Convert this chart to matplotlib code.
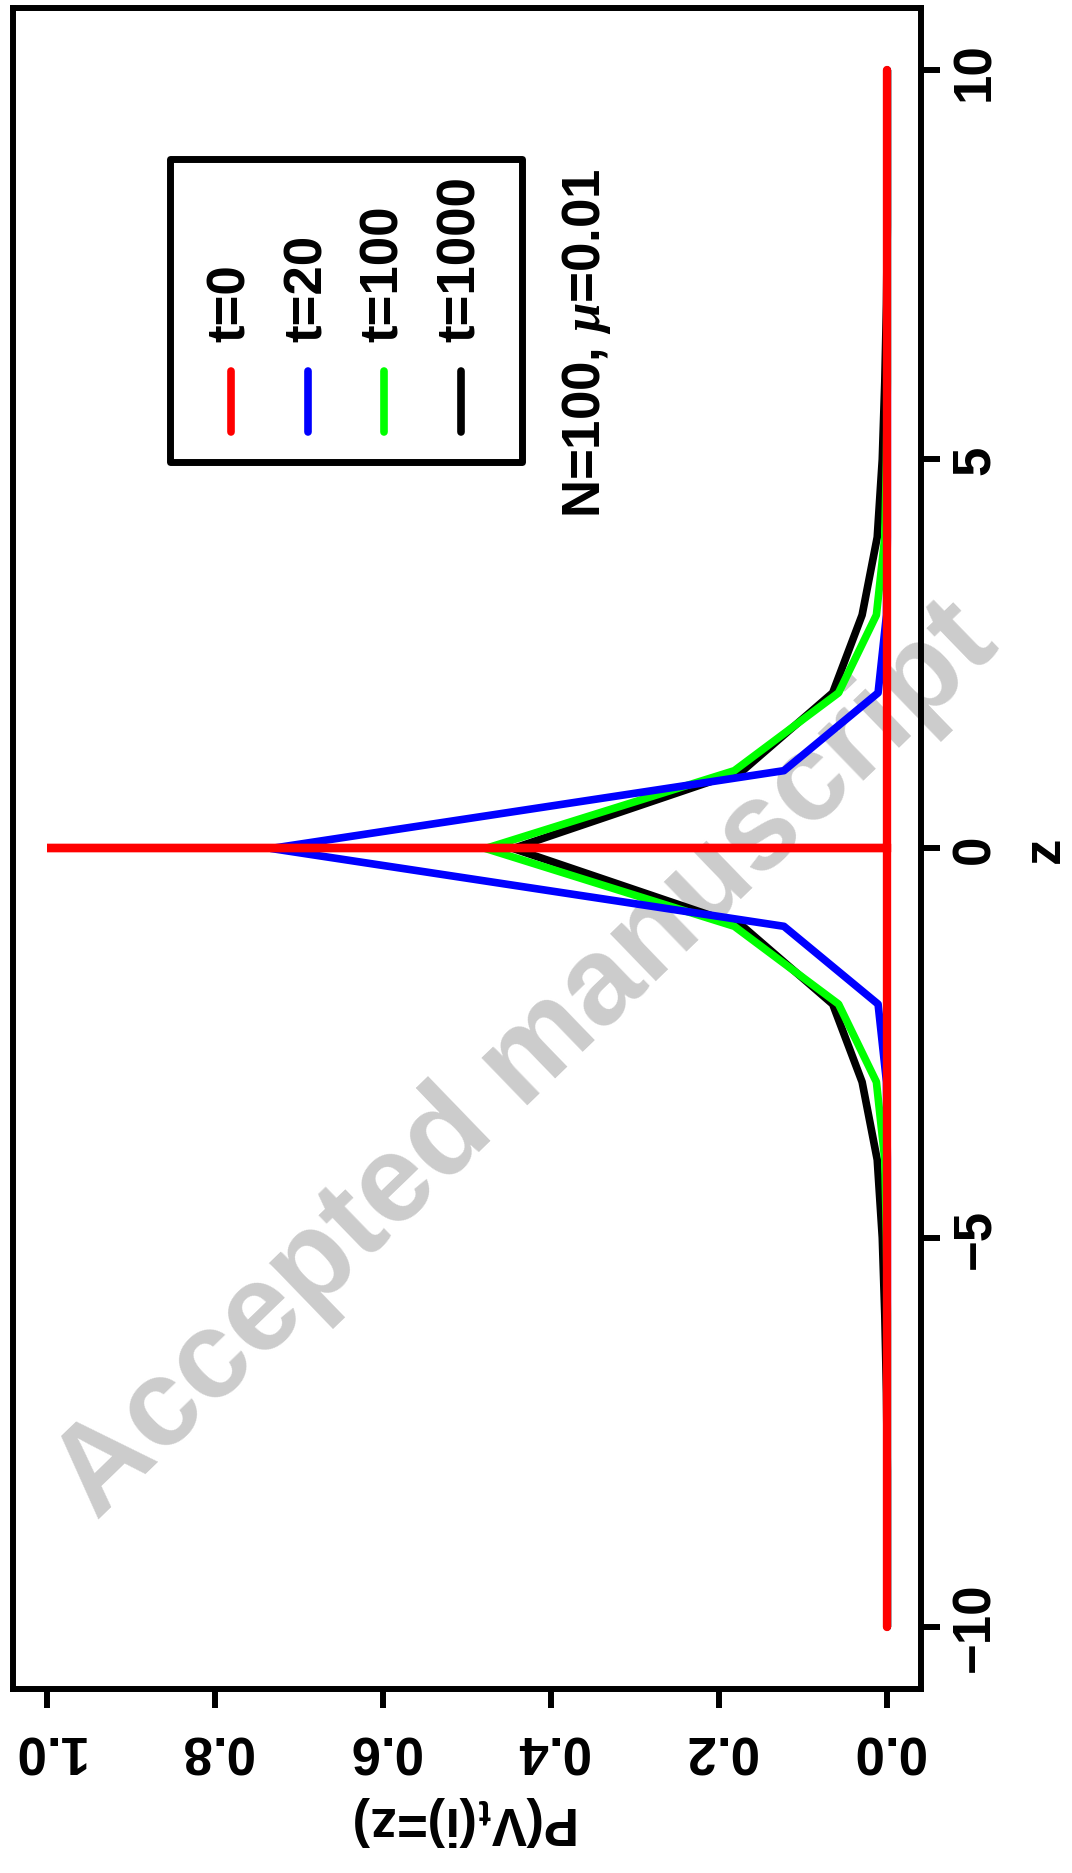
import numpy as np
import matplotlib
matplotlib.use("Agg")
import matplotlib.pyplot as plt
from matplotlib.patches import Rectangle
from matplotlib.lines import Line2D

plt.rcParams['font.family'] = ['Liberation Sans', 'DejaVu Sans']
plt.rcParams['font.weight'] = 'bold'
plt.rcParams['axes.labelweight'] = 'bold'
plt.rcParams['mathtext.fontset'] = 'custom'
plt.rcParams['mathtext.rm'] = 'Liberation Sans:bold'
plt.rcParams['mathtext.it'] = 'Liberation Sans:bold'
plt.rcParams['mathtext.bf'] = 'Liberation Sans:bold'
plt.rcParams['mathtext.sf'] = 'Liberation Serif:italic'

# data (z = -10 .. 10)
z = np.arange(-10, 11)
# t=0: all mass at z=0 (drawn as base line plus a spike)
z_t0 = [-10, 0, 0, 0, 10]
p_t0 = [0.0, 0.0, 1.0, 0.0, 0.0]
p_t20 = [0, 0, 0, 0, 0, 0, 0, 0.001, 0.011, 0.123, 0.733,
         0.123, 0.011, 0.001, 0, 0, 0, 0, 0, 0, 0]
p_t100 = [0, 0, 0, 0, 0, 0.001, 0.003, 0.013, 0.058, 0.182, 0.478,
          0.182, 0.058, 0.013, 0.003, 0.001, 0, 0, 0, 0, 0]
p_t1000 = [0, 0, 0, 0.001, 0.003, 0.006, 0.012, 0.03, 0.065, 0.172, 0.445,
           0.172, 0.065, 0.03, 0.012, 0.006, 0.003, 0.001, 0, 0, 0]

labels = ['t=0', 't=20', 't=100', 't=1000']
colors = ['#ff0000', '#0000ff', '#00ff00', '#000000']
z_ticks = [-10, -5, 0, 5, 10]
p_ticks = [0.0, 0.2, 0.4, 0.6, 0.8, 1.0]
p_ticklabels = ['0.0', '0.2', '0.4', '0.6', '0.8', '1.0']

fs = 38
lw = 5.5

fig = plt.figure(figsize=(10.72, 18.74), dpi=100)
ax = fig.add_axes([0.0121, 0.0982, 0.8470, 0.8970])
ax.patch.set_facecolor('none')

# watermark, behind everything
fig.text(0.492, 0.4333, 'Accepted manuscript', rotation=44, fontsize=89,
         color='#cccccc', weight='bold', ha='center', va='center',
         rotation_mode='anchor', zorder=-1)

# curves (rotated chart: P on horizontal axis, z on vertical axis)
ax.plot(p_t1000, z, color=colors[3], lw=lw, solid_capstyle='round', solid_joinstyle='round')
ax.plot(p_t100, z, color=colors[2], lw=lw, solid_capstyle='round', solid_joinstyle='round')
ax.plot(p_t20, z, color=colors[1], lw=lw, solid_capstyle='round', solid_joinstyle='round')
ax.plot(p_t0, z_t0, color=colors[0], lw=6, solid_capstyle='round', solid_joinstyle='miter')

ax.set_xlim(1.04, -0.04)
ax.set_ylim(-10.8, 10.8)

for s in ax.spines.values():
    s.set_linewidth(4.3)

ax.yaxis.tick_right()
ax.yaxis.set_label_position('right')
ax.set_yticks(z_ticks)
ax.set_xticks(p_ticks)
ax.set_xticklabels(p_ticklabels)
ax.tick_params(axis='both', direction='out', length=14, width=4.3, labelsize=fs)
ax.tick_params(axis='x', labelrotation=180, pad=11)
ax.tick_params(axis='y', labelrotation=90, pad=7)
plt.setp(ax.get_yticklabels(), va='center')

ax.set_ylabel('z', fontsize=fs, rotation=90, labelpad=32, va='center', fontweight='bold')
ax.set_xlabel(r'P(V$_\mathbf{t}$(i)=z)', fontsize=fs, rotation=180, labelpad=14,
              fontweight='bold')

# hand-made legend (rotated)
ax.add_patch(Rectangle((0.1729, 0.7299), 0.5606 - 0.1729, 0.9102 - 0.7299,
                       transform=ax.transAxes, fill=False, lw=5, ec='black',
                       joinstyle='round', zorder=5))
leg_x = [0.240, 0.325, 0.4086, 0.4934]
for xx, lab, col in zip(leg_x, labels, colors):
    ax.add_line(Line2D([xx, xx], [0.7478, 0.7840], transform=ax.transAxes,
                       color=col, lw=lw, solid_capstyle='round', zorder=6))
    ax.text(xx, 0.8019, lab, rotation=90, ha='center', va='bottom',
            fontsize=fs, transform=ax.transAxes, zorder=6)

ax.text(0.632, 0.6972, r'N=100, $\mathsf{\mu}$=0.01', rotation=90,
        ha='center', va='bottom', fontsize=fs, transform=ax.transAxes)

fig.savefig('out.png', dpi=100)
